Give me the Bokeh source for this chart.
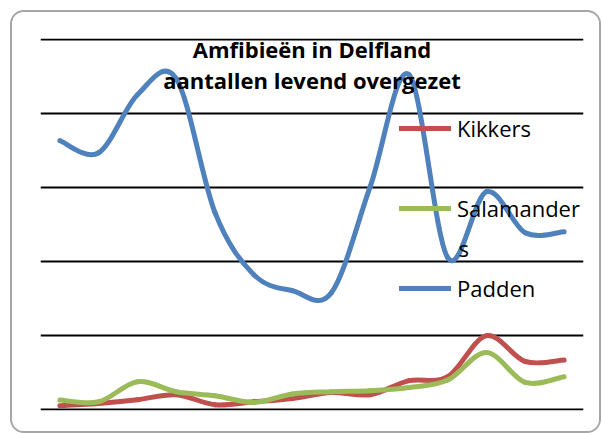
from bokeh.plotting import figure
from bokeh.models import Range1d, FixedTicker, Legend, LegendItem, Label
from bokeh.embed import file_html
from bokeh.resources import INLINE

# --- data (14 seasons, y in arbitrary counts) ---
seizoenen = list(range(14))
kikkers = [22, 38, 63, 97, 29, 49, 72, 112, 97, 192, 219, 497, 322, 332]
salamanders = [61, 49, 185, 117, 90, 45, 102, 117, 124, 146, 196, 383, 180, 219]
padden = [1818, 1736, 2129, 2238, 1330, 910, 801, 788, 1506, 2265, 1025, 1472, 1194, 1201]
grid_ticks = [0, 500, 1000, 1500, 2000, 2500]
titel_regel1 = "Amfibieën in Delfland"
titel_regel2 = "aantallen levend overgezet"
reeks_namen = ["Kikkers", "Salamander", "Padden"]
kleuren = ["#C0504D", "#9BBB59", "#4F81BD"]

W, H = 591, 423
p = figure(width=W, height=H, output_backend="svg", toolbar_location=None,
           x_range=Range1d(-0.5, 13.5), y_range=Range1d(-10, 2510),
           x_axis_location=None, y_axis_location=None,
           min_border_left=28, min_border_right=20, min_border_top=26, min_border_bottom=25)
p.styles = {"margin": "10px 0 -12px 10px", "border": "2px solid #a6a6a6", "border-radius": "14px",
            "overflow": "hidden"}
p.outline_line_color = None
p.xgrid.visible = False
p.ygrid.ticker = FixedTicker(ticks=grid_ticks)
p.ygrid.grid_line_color = "#000000"
p.ygrid.grid_line_width = 2


def smooth_segments(xs, ys):
    n = len(xs)
    x0, y0, x1, y1, cx0, cy0, cx1, cy1 = [], [], [], [], [], [], [], []
    for i in range(n - 1):
        im = max(i - 1, 0)
        ip2 = min(i + 2, n - 1)
        x0.append(xs[i]); y0.append(ys[i])
        x1.append(xs[i + 1]); y1.append(ys[i + 1])
        cx0.append(xs[i] + (xs[i + 1] - xs[im]) / 6.0)
        cy0.append(ys[i] + (ys[i + 1] - ys[im]) / 6.0)
        cx1.append(xs[i + 1] - (xs[ip2] - xs[i]) / 6.0)
        cy1.append(ys[i + 1] - (ys[ip2] - ys[i]) / 6.0)
    return dict(x0=x0, y0=y0, x1=x1, y1=y1, cx0=cx0, cy0=cy0, cx1=cx1, cy1=cy1)


renderers = []
for reeks, kleur in zip([kikkers, salamanders, padden], kleuren):
    seg = smooth_segments(seizoenen, reeks)
    r = p.bezier(line_color=kleur, line_width=5, line_cap="round", **seg)
    renderers.append(r)

legend = Legend(items=[LegendItem(label=n, renderers=[r]) for n, r in zip(reeks_namen, renderers)],
                location=(359, 107), orientation="vertical",
                glyph_width=52, glyph_height=30, label_height=30, spacing=50,
                label_standoff=6, padding=0, margin=0,
                border_line_color=None, background_fill_alpha=0,
                label_text_font="Open Sans", label_text_font_size="22px", label_text_color="#000000")
p.add_layout(legend)

p.add_layout(Label(x=418, y=163, x_units="screen", y_units="screen", text="s",
                   text_baseline="alphabetic",
                   text_font="Open Sans", text_font_size="22px", text_color="#000000"))

for tekst, yv in [(titel_regel1, 2441), (titel_regel2, 2231)]:
    p.add_layout(Label(x=6.5, y=yv, text=tekst, text_align="center", text_baseline="alphabetic",
                       text_font="Open Sans", text_font_style="bold", text_font_size="22px",
                       text_color="#000000"))

open("out.html", "w").write(file_html(p, INLINE))
